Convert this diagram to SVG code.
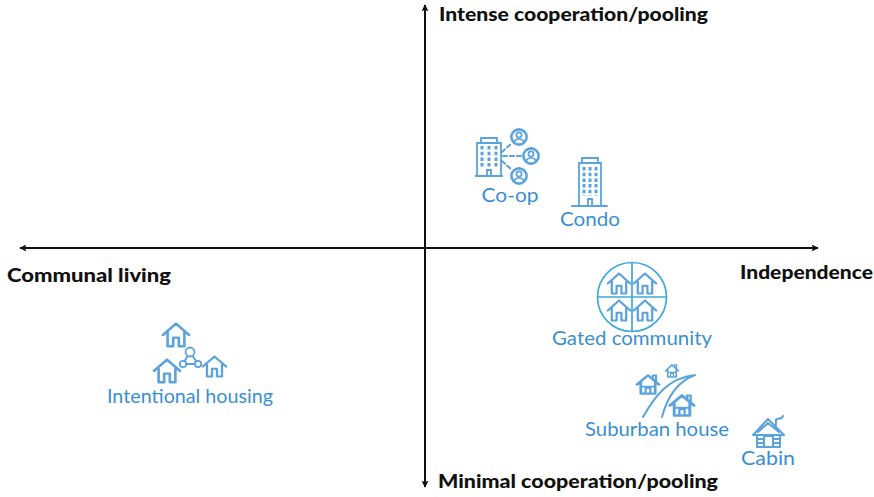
<svg xmlns="http://www.w3.org/2000/svg" width="874" height="497" viewBox="0 0 874 497">
<style>
.ax{font:900 19px Lato,"Liberation Sans",sans-serif;fill:#111}
.lb{font:20px Lato,"Liberation Sans",sans-serif;fill:#3a8fd0}
.ic{fill:none;stroke:#5ba3dc;stroke-width:2;stroke-linejoin:round;stroke-linecap:round}
.axis{fill:none;stroke:#111;stroke-width:2}
</style>
<defs>
<marker id="ah" viewBox="0 0 10 10" refX="9" refY="5" markerWidth="8" markerHeight="7" markerUnits="userSpaceOnUse" orient="auto-start-reverse"><path d="M0 0L10 5L0 10L2 5z" fill="#111"/></marker>
<symbol id="house" viewBox="0 0 30 30" preserveAspectRatio="none" overflow="visible"><path fill="none" stroke="#5ba3dc" stroke-width="2.800" stroke-linejoin="round" stroke-linecap="round" d="M1 15L15 2L29 15M6 12V28H12V18H18V28H24V12"/></symbol>
<symbol id="solid" viewBox="0 0 30 30" preserveAspectRatio="none" overflow="visible"><path fill="#fff" stroke="#5ba3dc" stroke-width="3.400" stroke-linejoin="round" stroke-linecap="round" d="M1 15L15 2L29 15L24 12V28H6V12Z"/><path fill="none" stroke="#5ba3dc" stroke-width="2.600" d="M6 18H24M12 28V20H18V28M21 8V2H25V11"/></symbol>
<symbol id="tower" viewBox="0 0 26 50" overflow="visible"><path fill="none" stroke="#5ba3dc" stroke-width="1.800" d="M0 49H26M2 49V6H24V49M5 6V1H21V6M11 49V42H15V49"/><path fill="none" stroke="#5ba3dc" stroke-width="3" stroke-dasharray="3.500 2.200" d="M7 10V39M13 10V39M19 10V39"/></symbol>
<symbol id="person" viewBox="0 0 18 18" overflow="visible"><circle cx="9" cy="9" r="7.600" fill="none" stroke="#5ba3dc" stroke-width="2.600"/><circle cx="9" cy="7" r="2.600" fill="none" stroke="#5ba3dc" stroke-width="1.700"/><path fill="none" stroke="#5ba3dc" stroke-width="1.700" d="M4.500 14C5 10 13 10 13.500 14"/></symbol>
</defs>
<g id="connectors">
<path class="axis" d="M425 5V487" marker-start="url(#ah)" marker-end="url(#ah)"/>
<path class="axis" d="M20 248H818" marker-start="url(#ah)" marker-end="url(#ah)"/>
</g>
<g id="label-top"><text class="ax" x="439" y="21" textLength="269" lengthAdjust="spacingAndGlyphs">Intense cooperation/pooling</text></g>
<g id="label-bottom"><text class="ax" x="438" y="488" textLength="280" lengthAdjust="spacingAndGlyphs">Minimal cooperation/pooling</text></g>
<g id="label-left"><text class="ax" x="7" y="282" textLength="164" lengthAdjust="spacingAndGlyphs">Communal living</text></g>
<g id="label-right"><text class="ax" x="740" y="279" textLength="133" lengthAdjust="spacingAndGlyphs">Independence</text></g>
<g id="coop">
<g transform="translate(476,137)"><path fill="none" stroke="#5ba3dc" stroke-width="1.800" d="M-1 39H27M1 39V6H25V39M5 6V1H21V6M11 39V33H15V39"/><path fill="none" stroke="#5ba3dc" stroke-width="3" stroke-dasharray="3.500 2.200" d="M6 9V31M13 9V31M20 9V31"/></g>
<path class="ic" stroke-dasharray="4 3" d="M502 152L512 143M503 156H522M502 161L512 170"/>
<use href="#person" x="510" y="128" width="18" height="18"/>
<use href="#person" x="522" y="147" width="18" height="18"/>
<use href="#person" x="510" y="167" width="18" height="18"/>
<text class="lb" x="510" y="202" text-anchor="middle" textLength="57" lengthAdjust="spacingAndGlyphs">Co-op</text>
</g>
<g id="condo">
<use href="#tower" x="577" y="157" width="26" height="50"/>
<path class="ic" d="M572 206H607"/>
<text class="lb" x="590" y="226" text-anchor="middle" textLength="60" lengthAdjust="spacingAndGlyphs">Condo</text>
</g>
<g id="gated">
<circle cx="632" cy="297" r="34.500" fill="none" stroke="#3fa9dc" stroke-width="1.700"/>
<path fill="none" stroke="#3fa9dc" stroke-width="1.700" d="M632 263V331M598 297H666"/>
<use href="#house" x="607" y="272" width="24" height="23"/>
<use href="#house" x="633" y="272" width="24" height="23"/>
<use href="#house" x="607" y="299" width="24" height="23"/>
<use href="#house" x="633" y="299" width="24" height="23"/>
<text class="lb" x="552" y="345" textLength="160" lengthAdjust="spacingAndGlyphs">Gated community</text>
</g>
<g id="suburban">
<path class="ic" d="M643 417C655 396 668 378 695 375M662 417C667 398 676 382 695 375"/>
<use href="#solid" x="665" y="364" width="14" height="14"/>
<use href="#solid" x="636" y="374" width="24" height="21"/>
<use href="#solid" x="669" y="394" width="26" height="23"/>
<text class="lb" x="585" y="436" textLength="144" lengthAdjust="spacingAndGlyphs">Suburban house</text>
</g>
<g id="cabin">
<path class="ic" stroke-width="1.500" d="M753 435L768 419L784 435ZM758 432L768 423L779 432M757 435V447H780V435M757 439H764M757 443H764M773 439H780M773 443H780M764 436H773V447H764ZM776 425V420C776 418 782 420 783 416"/>
<text class="lb" x="741" y="465" textLength="54" lengthAdjust="spacingAndGlyphs">Cabin</text>
</g>
<g id="intentional">
<use href="#house" x="162" y="322" width="28" height="26"/>
<use href="#house" x="153" y="358" width="28" height="26"/>
<use href="#house" x="202" y="355" width="25" height="23"/>
<path class="ic" stroke-width="2" d="M190 352L183 364H198Z"/>
<circle cx="190" cy="352" r="4.500" fill="#fff" stroke="#5ba3dc" stroke-width="1.800"/>
<circle cx="183" cy="364" r="3.200" fill="#fff" stroke="#5ba3dc" stroke-width="1.800"/>
<circle cx="198" cy="364" r="3.200" fill="#fff" stroke="#5ba3dc" stroke-width="1.800"/>
<text class="lb" x="107" y="403" textLength="166" lengthAdjust="spacingAndGlyphs">Intentional housing</text>
</g>
</svg>
